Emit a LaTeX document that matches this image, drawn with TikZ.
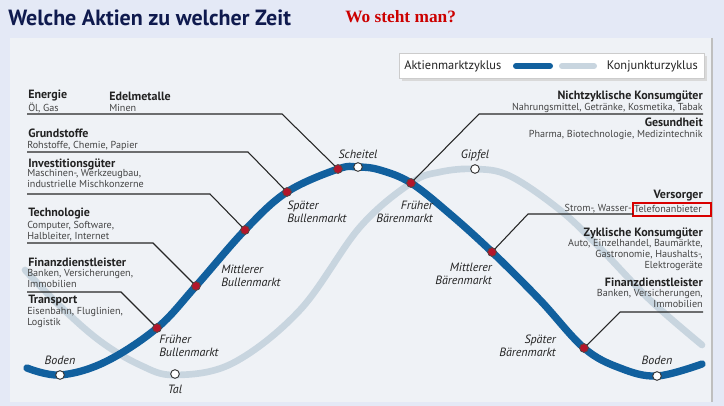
\documentclass[tikz,border=0pt]{standalone}
\usepackage{fontspec}
\setmainfont{PT Sans}
\newfontfamily\serifred{Liberation Serif}
\usetikzlibrary{calc}
\definecolor{bgouter}{HTML}{E4E9F6}
\definecolor{bginner}{HTML}{EFF2F6}
\definecolor{navy}{HTML}{0F1A4E}
\definecolor{bluecyc}{HTML}{11609E}
\definecolor{graycyc}{HTML}{C8D5DF}
\definecolor{reddot}{HTML}{B3162B}
\definecolor{txt}{HTML}{222222}
\definecolor{subtxt}{HTML}{444444}
\begin{document}
\begin{tikzpicture}[x=0.75pt,y=-0.75pt,
  hd/.style={font=\bfseries\fontsize{9}{10}\selectfont,text=txt,inner sep=0pt},
  sb/.style={font=\fontsize{7.6}{8.4}\selectfont,text=subtxt,inner sep=0pt},
  ph/.style={font=\itshape\fontsize{9}{9.6}\selectfont,text=txt,inner sep=0pt,align=left},
  phr/.style={ph,align=right},
  rdot/.style={circle,fill=reddot,draw=black!70,line width=0.5pt,minimum size=6.5pt,inner sep=0pt},
  wdot/.style={circle,fill=white,draw=black!80,line width=0.7pt,minimum size=6.5pt,inner sep=0pt},
  conn/.style={draw=black!85,line width=0.8pt}]
\useasboundingbox (0,0) rectangle (724,406);
\fill[bgouter] (0,0) rectangle (724,406);
\fill[bginner] (10,38) rectangle (712,402);
\draw[black!25,line width=0.8pt] (712,38) -- (712,402);
% title
\node[anchor=west,inner sep=0pt,text=navy,font=\bfseries\fontsize{16.5}{18}\selectfont] (title) at (8,18) {Welche Aktien zu welcher Zeit};
\node[anchor=west,inner sep=0pt,text=red!80!black,font=\serifred\bfseries\fontsize{13}{15}\selectfont] (wo) at (345,17) {Wo steht man?};
% legend
\fill[black!15] (402,56) rectangle (707,81);
\node[draw=black!20,fill=white,minimum width=228.75pt,minimum height=18.75pt,anchor=north west,inner sep=0pt] (legend) at (399,53) {};
\node[anchor=west,inner sep=0pt,font=\fontsize{9.3}{11}\selectfont,text=txt] (l1) at (404,66) {Aktienmarktzyklus};
\draw[bluecyc,line width=4.5pt,line cap=round] (516,66) -- (550,66);
\draw[graycyc,line width=4.5pt,line cap=round] (562,66) -- (594,66);
\node[anchor=east,inner sep=0pt,font=\fontsize{9.3}{11}\selectfont,text=txt] (l2) at (698,66) {Konjunkturzyklus};
% curves
\draw[graycyc,line width=5pt,line cap=round] plot[smooth,tension=0.6] coordinates {(25,270) (60,306) (100,341) (140,365) (175,375) (233,363) (300,310) (360,227) (411,183) (440,172) (475,169) (510,176) (560,210) (600,248) (650,300) (702,345)};
\draw[bluecyc,line width=5.5pt,line cap=round] plot[smooth,tension=0.6] coordinates {(27,368) (60,375) (105,362) (157,328) (196,286) (245,230) (287,192) (338,169) (358,167) (380,170) (411,183) (450,214) (492,252) (540,300) (584,348) (620,368) (657,376) (702,364)};
% dots
\node[wdot] (boden1) at (60,375) {};
\node[wdot] (tal) at (175,374) {};
\node[wdot] (scheitel) at (358,167) {};
\node[wdot] (gipfel) at (475,169) {};
\node[wdot] (boden2) at (657,376) {};
\node[rdot] (d1) at (157,328) {};
\node[rdot] (d2) at (196,286) {};
\node[rdot] (d3) at (245,230) {};
\node[rdot] (d4) at (287,192) {};
\node[rdot] (d5) at (338,169) {};
\node[rdot] (d6) at (411,183) {};
\node[rdot] (d7) at (492,252) {};
\node[rdot] (d8) at (584,348) {};
% phase labels
\node[ph] (lb1) at (60,360) {Boden};
\node[ph] (ltal) at (175,389) {Tal};
\node[ph] (lsch) at (358,154) {Scheitel};
\node[ph] (lgip) at (475,155) {Gipfel};
\node[ph] (lb2) at (657,360) {Boden};
\node[ph,anchor=west] (fb) at (159,346) {Früher\\Bullenmarkt};
\node[ph,anchor=west] (mb) at (221,276) {Mittlerer\\Bullenmarkt};
\node[ph,anchor=west] (sb) at (287,212) {Später\\Bullenmarkt};
\node[phr,anchor=east] (fbar) at (433,212) {Früher\\Bärenmarkt};
\node[phr,anchor=east] (mbar) at (492,274) {Mittlerer\\Bärenmarkt};
\node[phr,anchor=east] (sbar) at (556,346) {Später\\Bärenmarkt};
% left labels
\node[hd,anchor=west] (en) at (28,96) {Energie};
\node[sb,anchor=west] (en2) at (28,108) {Öl, Gas};
\node[hd,anchor=west] (ed) at (109,96) {Edelmetalle};
\node[sb,anchor=west] (ed2) at (109,108) {Minen};
\coordinate (a1) at (27,114); \coordinate (b1) at (282,114);
\draw[conn] (a1) -- (b1) -- (d5.center);
\node[hd,anchor=west] (gr) at (28,133) {Grundstoffe};
\node[sb,anchor=west] (gr2) at (27,146) {Rohstoffe, Chemie, Papier};
\coordinate (a2) at (27,152); \coordinate (b2) at (248,152);
\draw[conn] (a2) -- (b2) -- (d4.center);
\node[hd,anchor=west] (in) at (28,164) {Investitionsgüter};
\node[sb,anchor=north west,align=left] (in2) at (27,169) {Maschinen-, Werkzeugbau,\\industrielle Mischkonzerne};
\coordinate (a3) at (27,194); \coordinate (b3) at (210,194);
\draw[conn] (a3) -- (b3) -- (d3.center);
\node[hd,anchor=west] (te) at (28,214) {Technologie};
\node[sb,anchor=north west,align=left] (te2) at (27,221) {Computer, Software,\\Halbleiter, Internet};
\coordinate (a4) at (27,243); \coordinate (b4) at (153,243);
\draw[conn] (a4) -- (b4) -- (d2.center);
\node[hd,anchor=west] (fi) at (28,262) {Finanzdienstleister};
\node[sb,anchor=north west,align=left] (fi2) at (27,269) {Banken, Versicherungen,\\Immobilien};
\coordinate (a5) at (27,292); \coordinate (b5) at (121,292);
\draw[conn] (a5) -- (b5) -- (d1.center);
\node[hd,anchor=west] (tr) at (28,300) {Transport};
\node[sb,anchor=north west,align=left] (tr2) at (27,307) {Eisenbahn, Fluglinien,\\Logistik};
% right labels
\node[hd,anchor=east] (nz) at (703,96) {Nichtzyklische Konsumgüter};
\node[sb,anchor=east] (nz2) at (703,108) {Nahrungsmittel, Getränke, Kosmetika, Tabak};
\coordinate (a6) at (703,114); \coordinate (b6) at (479,114);
\draw[conn] (a6) -- (b6) -- (d6.center);
\node[hd,anchor=east] (ge) at (703,122) {Gesundheit};
\node[sb,anchor=east] (ge2) at (703,135) {Pharma, Biotechnologie, Medizintechnik};
\node[hd,anchor=east] (ve) at (703,196) {Versorger};
\node[sb,anchor=east] (tel) at (702,209) {Telefonanbieter};
\node[sb,anchor=east] (ve2) at (632,209) {Strom-, Wasser-};
\draw[red!85!black,line width=1.6pt] (633,203) rectangle (711,216);
\coordinate (a7) at (633,214); \coordinate (b7) at (528,214);
\draw[conn] (a7) -- (b7) -- (d7.center);
\node[hd,anchor=east] (zk) at (703,233) {Zyklische Konsumgüter};
\node[sb,anchor=north east,align=right] (zk2) at (703,239) {Auto, Einzelhandel, Baumärkte,\\Gastronomie, Haushalts-,\\Elektrogeräte};
\node[hd,anchor=east] (fr) at (703,282) {Finanzdienstleister};
\node[sb,anchor=north east,align=right] (fr2) at (703,289) {Banken, Versicherungen,\\Immobilien};
\coordinate (a8) at (703,312); \coordinate (b8) at (620,312);
\draw[conn] (a8) -- (b8) -- (d8.center);
% redraw dots on top of connectors
\foreach \d in {d1,d2,d3,d4,d5,d6,d7,d8} \node[rdot] at (\d) {};
\end{tikzpicture}
\end{document}
